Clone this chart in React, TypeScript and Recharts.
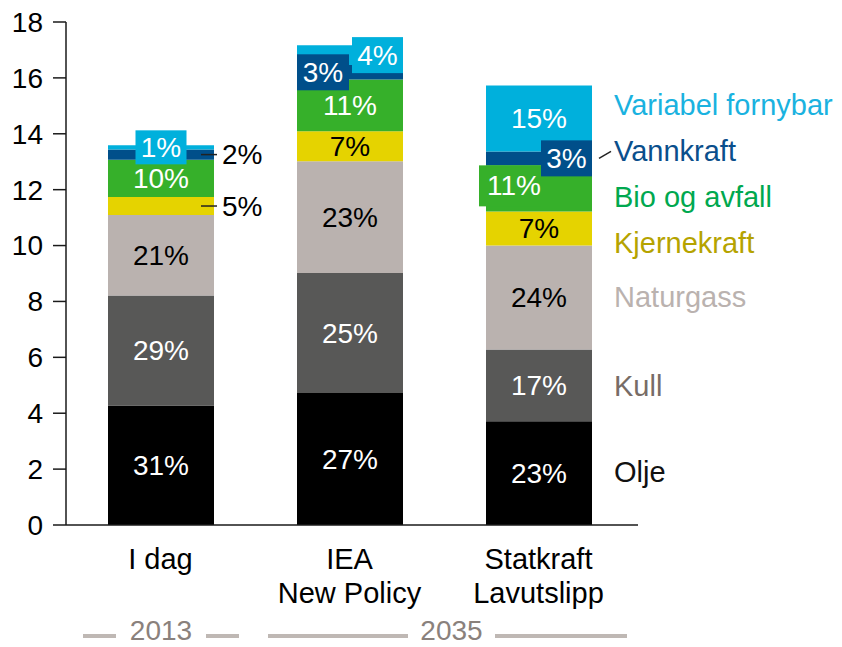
import { BarChart, Bar, XAxis, YAxis, LabelList } from 'recharts';

const categories = ['I dag', 'IEA\nNew Policy', 'Statkraft\nLavutslipp'];
const olje = [4.28, 4.72, 3.71];
const kull = [3.93, 4.3, 2.57];
const naturgass = [2.88, 4.0, 3.72];
const kjernekraft = [0.65, 1.07, 1.22];
const bio = [1.33, 1.85, 1.65];
const vannkraft = [0.37, 0.52, 0.5];
const variabel = [0.15, 0.71, 2.36];

const oljeLabels = ['31%', '27%', '23%'];
const kullLabels = ['29%', '25%', '17%'];
const naturgassLabels = ['21%', '23%', '24%'];
const kjernekraftLabels = ['5%', '7%', '7%'];
const bioLabels = ['10%', '11%', '11%'];
const vannkraftLabels = ['2%', '3%', '3%'];
const variabelLabels = ['1%', '4%', '15%'];

const yTicks = [0, 2, 4, 6, 8, 10, 12, 14, 16, 18];
const years = ['2013', '2035'];

const FONT = 'Arial, "Liberation Sans", Helvetica, sans-serif';
const FS = 28;
const FS_TEXT = 29;

// label placement per bar: c = centred, box = boxed, leader = line out to the right
const series = [
  { key: 'olje', name: 'Olje', values: olje, labels: oljeLabels, color: '#000000', text: '#ffffff', legend: '#111111', modes: ['c', 'c', 'c'] },
  { key: 'kull', name: 'Kull', values: kull, labels: kullLabels, color: '#585857', text: '#ffffff', legend: '#776c66', modes: ['c', 'c', 'c'] },
  { key: 'naturgass', name: 'Naturgass', values: naturgass, labels: naturgassLabels, color: '#bab2af', text: '#000000', legend: '#bab2af', modes: ['c', 'c', 'c'] },
  { key: 'kjernekraft', name: 'Kjernekraft', values: kjernekraft, labels: kjernekraftLabels, color: '#e5d300', text: '#000000', legend: '#b5a300', modes: ['leader', 'c', 'c'] },
  { key: 'bio', name: 'Bio og avfall', values: bio, labels: bioLabels, color: '#36b02a', text: '#ffffff', legend: '#00a84f', modes: ['c', 'c', 'boxOut'] },
  { key: 'vannkraft', name: 'Vannkraft', values: vannkraft, labels: vannkraftLabels, color: '#004f8a', text: '#ffffff', legend: '#0a4f8c', modes: ['leader', 'boxLeft', 'boxRightLink'] },
  { key: 'variabel', name: 'Variabel fornybar', values: variabel, labels: variabelLabels, color: '#00b0dc', text: '#ffffff', legend: '#1ab2e0', modes: ['box', 'boxRight', 'c'] },
];

const legendY = [472, 386, 297, 243, 197, 151, 105];

const chartData = categories.map((name, i) => {
  const row: Record<string, any> = { name };
  series.forEach((s) => (row[s.key] = s.values[i]));
  return row;
});

function geom(p: any) {
  const vb = p.viewBox || {};
  return {
    x: Number(p.x ?? vb.x),
    y: Number(p.y ?? vb.y),
    w: Number(p.width ?? vb.width),
    h: Number(p.height ?? vb.height),
  };
}

function txt(x: number, y: number, s: string, fill: string, anchor = 'middle') {
  return (
    <text x={x} y={y} textAnchor={anchor} dominantBaseline="central" fill={fill} fontSize={FS} fontFamily={FONT}>
      {s}
    </text>
  );
}

function drawLabel(mode: string, s: string, x: number, y: number, w: number, h: number, color: string, textColor: string, k: string) {
  const cx = x + w / 2;
  const cy = y + h / 2;
  if (mode === 'box') {
    return (
      <g key={k}>
        <rect x={cx - 25.5} y={cy - 17} width={51} height={34} fill={color} />
        {txt(cx, cy, s, textColor)}
      </g>
    );
  }
  if (mode === 'boxLeft') {
    return (
      <g key={k}>
        <rect x={x} y={cy - 18} width={52} height={36} fill={color} />
        {txt(x + 26, cy, s, textColor)}
      </g>
    );
  }
  if (mode === 'boxRight' || mode === 'boxRightLink') {
    return (
      <g key={k}>
        <rect x={x + w - 51} y={cy - 18} width={51} height={36} fill={color} />
        {txt(x + w - 25.5, cy, s, textColor)}
        {mode === 'boxRightLink' && (
          <line x1={x + w + 7} y1={cy} x2={x + w + 19} y2={cy - 7} stroke="#222" strokeWidth={1.5} />
        )}
      </g>
    );
  }
  if (mode === 'boxOut') {
    return (
      <g key={k}>
        <rect x={x - 7} y={y} width={62} height={41} fill={color} />
        {txt(x + 28, y + 20.5, s, textColor)}
      </g>
    );
  }
  if (mode === 'leader') {
    return (
      <g key={k}>
        <line x1={x + w - 13} y1={cy} x2={x + w + 3} y2={cy} stroke="#222" strokeWidth={1.5} />
        {txt(x + w + 8, cy, s, '#000000', 'start')}
      </g>
    );
  }
  return <g key={k}>{txt(cx, cy, s, textColor)}</g>;
}

function makeLabel(idx: number) {
  const s = series[idx];
  return (p: any) => {
    const { x, y, w, h } = geom(p);
    const i = p.index;
    const mode = s.modes[i];
    if (s.key === 'vannkraft' && mode.startsWith('box')) return null;
    const parts = [];
    if (s.key === 'variabel') {
      // vannkraft boxes drawn here so they sit above the top segment
      const vk = series[5];
      const vm = vk.modes[i];
      if (vm.startsWith('box')) {
        const unit = h / s.values[i];
        const vh = vk.values[i] * unit;
        parts.push(drawLabel(vm, vk.labels[i], x, y + h, w, vh, vk.color, vk.text, 'vk'));
      }
    }
    parts.push(drawLabel(mode, s.labels[i], x, y, w, h, s.color, s.text, 'own'));
    return <g>{parts}</g>;
  };
}

function CategoryTick(props: any) {
  const { x, y, payload } = props;
  const lines = String(payload.value).split('\n');
  return (
    <text x={x} y={y + 43.5} textAnchor="middle" fill="#000" fontSize={FS_TEXT} fontFamily={FONT}>
      {lines.map((l, i) => (
        <tspan key={i} x={x} dy={i === 0 ? 0 : 34}>
          {l}
        </tspan>
      ))}
    </text>
  );
}

export default function App() {
  return (
    <div style={{ position: 'relative', width: 842, height: 647, background: '#fff' }}>
      <style>{'body{margin:0}'}</style>
      <BarChart
        width={842}
        height={647}
        data={chartData}
        margin={{ top: 22, right: 204, bottom: 42, left: 6 }}
        barSize={106}
      >
        <XAxis
          dataKey="name"
          height={80}
          tickLine={false}
          tickSize={0}
          tickMargin={0}
          tick={<CategoryTick />}
          axisLine={{ stroke: '#1a1a1a', strokeWidth: 1.5 }}
          padding={{ left: 0, right: 5 }}
          interval={0}
        />
        <YAxis
          width={60}
          domain={[0, 18]}
          ticks={yTicks}
          interval={0}
          tickSize={13}
          tickMargin={10}
          axisLine={{ stroke: '#1a1a1a', strokeWidth: 1.5 }}
          tickLine={{ stroke: '#1a1a1a', strokeWidth: 1.5 }}
          tick={{ fontSize: FS, fill: '#000', fontFamily: FONT }}
        />
        {series.map((s, idx) => (
          <Bar key={s.key} dataKey={s.key} name={s.name} stackId="a" fill={s.color} isAnimationActive={false}>
            <LabelList dataKey={s.key} content={makeLabel(idx)} />
          </Bar>
        ))}
      </BarChart>
      <svg width={842} height={647} style={{ position: 'absolute', left: 0, top: 0, pointerEvents: 'none' }}>
        {series.map((s, i) => (
          <text key={s.key} x={614} y={legendY[i]} dominantBaseline="central" fill={s.legend} fontSize={FS_TEXT} fontFamily={FONT}>
            {s.name}
          </text>
        ))}
        <g stroke="#bfb8b4" strokeWidth={4}>
          <line x1={83} y1={636} x2={116} y2={636} />
          <line x1={206} y1={636} x2={239} y2={636} />
          <line x1={268} y1={636} x2={408} y2={636} />
          <line x1={495} y1={636} x2={627} y2={636} />
        </g>
        <text x={161} y={640} textAnchor="middle" fill="#8a817c" fontSize={FS} fontFamily={FONT}>
          {years[0]}
        </text>
        <text x={451.5} y={640} textAnchor="middle" fill="#8a817c" fontSize={FS} fontFamily={FONT}>
          {years[1]}
        </text>
      </svg>
    </div>
  );
}
